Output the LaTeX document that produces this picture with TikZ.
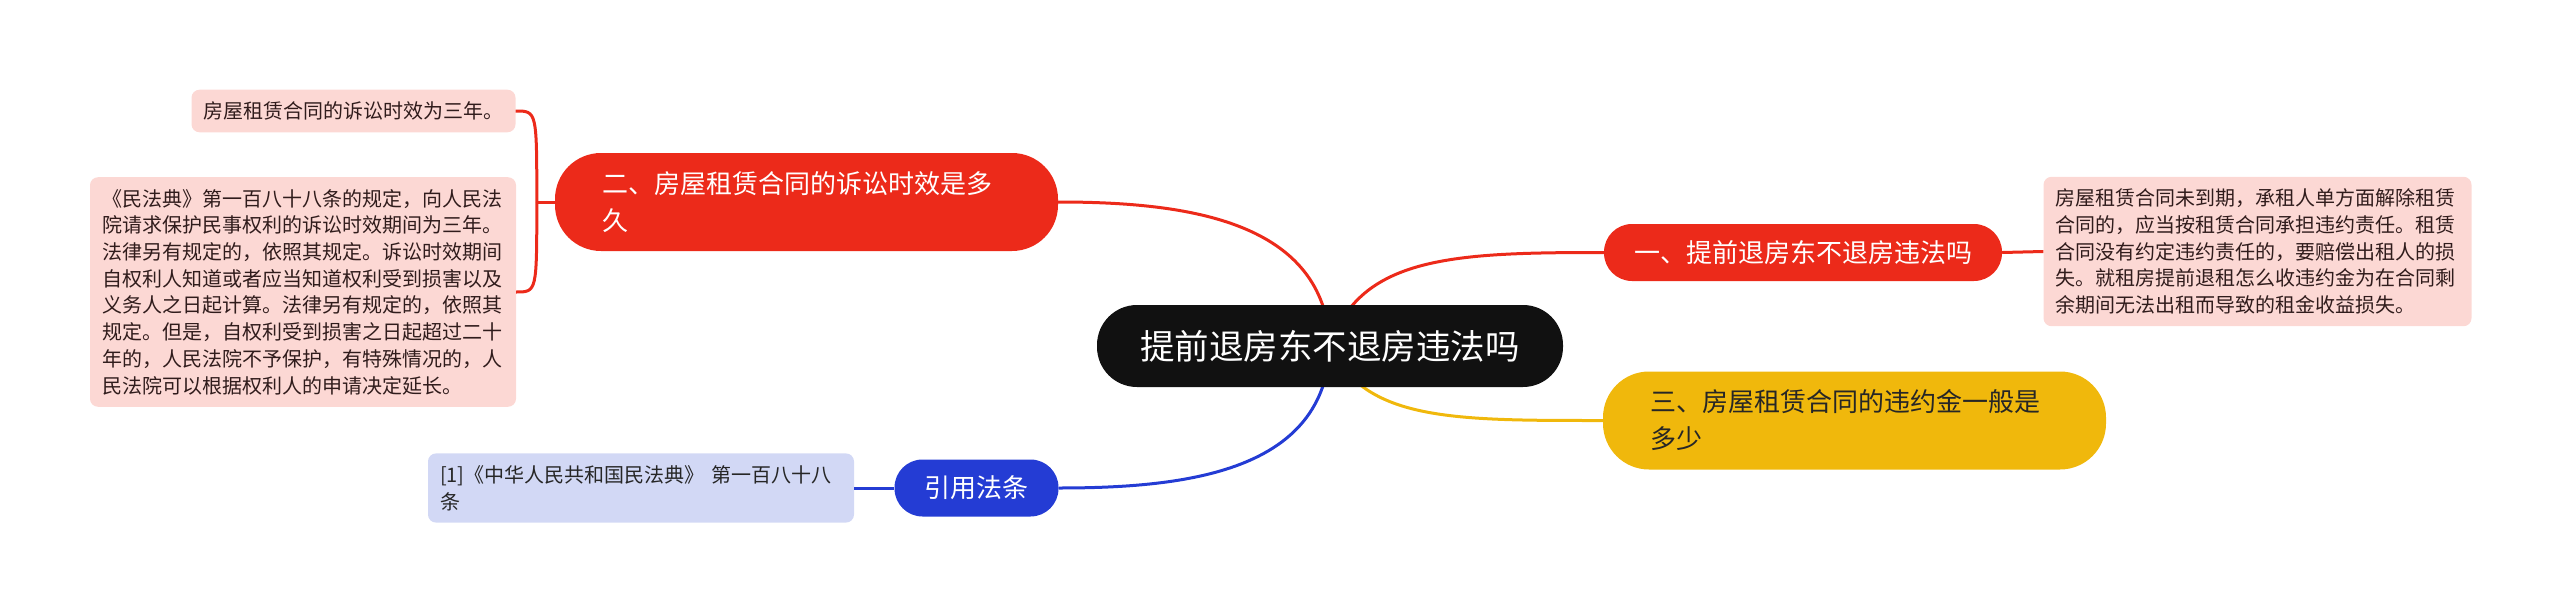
\documentclass[tikz,border=0pt]{standalone}
\usepackage{fontspec}
\setmainfont{Noto Sans CJK SC}
\usetikzlibrary{backgrounds}
\definecolor{rootblack}{RGB}{17,17,17}
\definecolor{mapred}{RGB}{236,42,26}
\definecolor{mapyellow}{RGB}{240,184,12}
\definecolor{mapblue}{RGB}{36,60,212}
\definecolor{notepink}{RGB}{252,216,212}
\definecolor{noteblue}{RGB}{210,216,245}
\definecolor{notetext}{RGB}{48,28,28}

\begin{document}
\begin{tikzpicture}[x=1pt,y=-1pt,
  root/.style={fill=rootblack, text=white, rounded corners=40pt, minimum width=466pt, minimum height=82pt, inner sep=0pt, font=\fontsize{34.5}{40}\selectfont},
  topic/.style={fill=#1, rounded corners=28pt, minimum height=57pt, inner xsep=30pt, inner ysep=0pt, font=\fontsize{26}{37}\selectfont},
  longtopic/.style={fill=#1, rounded corners=46pt, minimum height=98pt, text width=409pt, inner xsep=47pt, inner ysep=0pt, align=left, font=\fontsize{26}{37}\selectfont},
  note/.style={fill=#1, rounded corners=8pt, text=notetext, inner xsep=12pt, inner ysep=12pt, align=left, font=\fontsize{20}{26.7}\selectfont},
  link/.style={line width=3pt, draw=#1}
]
\useasboundingbox (0,0) rectangle (2560,613);
% Central topic
\node[root] (c) at (1330,346) {提前退房东不退房违法吗};
% Right side
\node[topic=mapred, text=white] (b1) at (1803,252.5) {一、提前退房东不退房违法吗};
\node[note=notepink, text width=404pt] (n1) at (2257.5,251.5) {房屋租赁合同未到期，承租人单方面解除租赁\\合同的，应当按租赁合同承担违约责任。租赁\\合同没有约定违约责任的，要赔偿出租人的损\\失。就租房提前退租怎么收违约金为在合同剩\\余期间无法出租而导致的租金收益损失。};
\node[longtopic=mapyellow, text=black!85] (b3) at (1854.5,420.5) {三、房屋租赁合同的违约金一般是\\多少};
% Left side
\node[longtopic=mapred, text=white] (b2) at (806.5,202) {二、房屋租赁合同的诉讼时效是多\\久};
\node[note=notepink] (n2a) at (353.5,111) {房屋租赁合同的诉讼时效为三年。};
\node[note=notepink, text width=402pt] (n2b) at (303,292) {《民法典》第一百八十八条的规定，向人民法\\院请求保护民事权利的诉讼时效期间为三年。\\法律另有规定的，依照其规定。诉讼时效期间\\自权利人知道或者应当知道权利受到损害以及\\义务人之日起计算。法律另有规定的，依照其\\规定。但是，自权利受到损害之日起超过二十\\年的，人民法院不予保护，有特殊情况的，人\\民法院可以根据权利人的申请决定延长。};
\node[topic=mapblue, text=white] (b4) at (976.5,488) {引用法条};
\node[note=noteblue, text width=402pt, text=black!85] (n4) at (641,488) {[1]《中华人民共和国民法典》 第一百八十八\\条};
% Connectors
\begin{scope}[on background layer]
\draw[link=mapred] (c.center) .. controls +(-5,-125) and +(130,0) .. (b2.east);
\draw[link=mapred] (c.center) .. controls +(30,-90) and +(-150,0) .. (b1.west);
\draw[link=mapyellow] (c.center) .. controls +(35,75) and +(-150,0) .. (b3.west);
\draw[link=mapblue] (c.center) .. controls +(-5,125) and +(130,0) .. (b4.east);
\end{scope}
\draw[link=mapred] (b1.east) -- (n1.west);
\draw[link=mapred] (b2.west) -- ++(-18,0) coordinate (j2);
\draw[link=mapred] (j2) .. controls (j2 |- n2a.east) .. (n2a.east);
\draw[link=mapred] (j2) .. controls (j2 |- n2b.east) .. (n2b.east);
\draw[link=mapblue] (b4.west) -- (n4.east);
\end{tikzpicture}
\end{document}
